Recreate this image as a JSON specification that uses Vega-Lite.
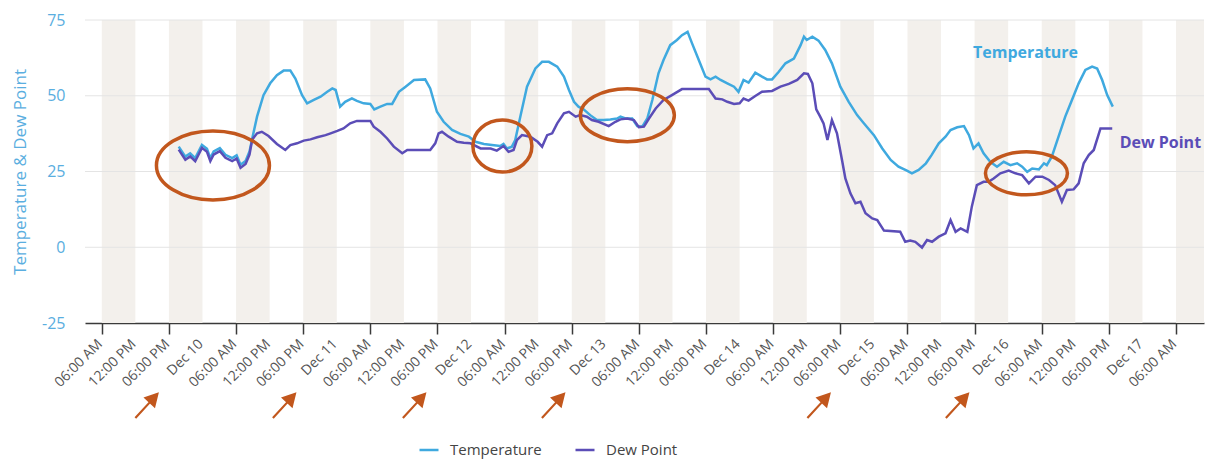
{
  "$schema": "https://vega.github.io/schema/vega-lite/v6.json",
  "width": 1119,
  "height": 303,
  "autosize": {"type": "none"},
  "padding": {"left": 85, "top": 20, "right": 1, "bottom": 136},
  "background": "white",
  "config": {
    "font": "Open Sans",
    "view": {"stroke": null},
    "axisX": {"labelOverlap": false, "labelFlush": false, "labelBound": false, "grid": false},
    "axisY": {"labelOverlap": false, "grid": false}
  },
  "datasets": {
    "bands": [
      {"t": "2023-12-09T06:00", "t2": "2023-12-09T12:00"},
      {"t": "2023-12-09T18:00", "t2": "2023-12-10T00:00"},
      {"t": "2023-12-10T06:00", "t2": "2023-12-10T12:00"},
      {"t": "2023-12-10T18:00", "t2": "2023-12-11T00:00"},
      {"t": "2023-12-11T06:00", "t2": "2023-12-11T12:00"},
      {"t": "2023-12-11T18:00", "t2": "2023-12-12T00:00"},
      {"t": "2023-12-12T06:00", "t2": "2023-12-12T12:00"},
      {"t": "2023-12-12T18:00", "t2": "2023-12-13T00:00"},
      {"t": "2023-12-13T06:00", "t2": "2023-12-13T12:00"},
      {"t": "2023-12-13T18:00", "t2": "2023-12-14T00:00"},
      {"t": "2023-12-14T06:00", "t2": "2023-12-14T12:00"},
      {"t": "2023-12-14T18:00", "t2": "2023-12-15T00:00"},
      {"t": "2023-12-15T06:00", "t2": "2023-12-15T12:00"},
      {"t": "2023-12-15T18:00", "t2": "2023-12-16T00:00"},
      {"t": "2023-12-16T06:00", "t2": "2023-12-16T12:00"},
      {"t": "2023-12-16T18:00", "t2": "2023-12-17T00:00"},
      {"t": "2023-12-17T06:00", "t2": "2023-12-17T11:00"}
    ],
    "grid": [{"v": 0}, {"v": 25}, {"v": 50}, {"v": 75}],
    "ticklabels": [
      {"t": "2023-12-09T06:00", "label": "06:00 AM"},
      {"t": "2023-12-09T12:00", "label": "12:00 PM"},
      {"t": "2023-12-09T18:00", "label": "06:00 PM"},
      {"t": "2023-12-10T00:00", "label": "Dec 10"},
      {"t": "2023-12-10T06:00", "label": "06:00 AM"},
      {"t": "2023-12-10T12:00", "label": "12:00 PM"},
      {"t": "2023-12-10T18:00", "label": "06:00 PM"},
      {"t": "2023-12-11T00:00", "label": "Dec 11"},
      {"t": "2023-12-11T06:00", "label": "06:00 AM"},
      {"t": "2023-12-11T12:00", "label": "12:00 PM"},
      {"t": "2023-12-11T18:00", "label": "06:00 PM"},
      {"t": "2023-12-12T00:00", "label": "Dec 12"},
      {"t": "2023-12-12T06:00", "label": "06:00 AM"},
      {"t": "2023-12-12T12:00", "label": "12:00 PM"},
      {"t": "2023-12-12T18:00", "label": "06:00 PM"},
      {"t": "2023-12-13T00:00", "label": "Dec 13"},
      {"t": "2023-12-13T06:00", "label": "06:00 AM"},
      {"t": "2023-12-13T12:00", "label": "12:00 PM"},
      {"t": "2023-12-13T18:00", "label": "06:00 PM"},
      {"t": "2023-12-14T00:00", "label": "Dec 14"},
      {"t": "2023-12-14T06:00", "label": "06:00 AM"},
      {"t": "2023-12-14T12:00", "label": "12:00 PM"},
      {"t": "2023-12-14T18:00", "label": "06:00 PM"},
      {"t": "2023-12-15T00:00", "label": "Dec 15"},
      {"t": "2023-12-15T06:00", "label": "06:00 AM"},
      {"t": "2023-12-15T12:00", "label": "12:00 PM"},
      {"t": "2023-12-15T18:00", "label": "06:00 PM"},
      {"t": "2023-12-16T00:00", "label": "Dec 16"},
      {"t": "2023-12-16T06:00", "label": "06:00 AM"},
      {"t": "2023-12-16T12:00", "label": "12:00 PM"},
      {"t": "2023-12-16T18:00", "label": "06:00 PM"},
      {"t": "2023-12-17T00:00", "label": "Dec 17"},
      {"t": "2023-12-17T06:00", "label": "06:00 AM"}
    ],
    "weather": [
      {"t": "2023-12-09T19:45", "s": "Temperature", "v": 33.2},
      {"t": "2023-12-09T20:56", "s": "Temperature", "v": 29.9},
      {"t": "2023-12-09T21:48", "s": "Temperature", "v": 31.0},
      {"t": "2023-12-09T22:42", "s": "Temperature", "v": 29.4},
      {"t": "2023-12-09T23:54", "s": "Temperature", "v": 33.8},
      {"t": "2023-12-10T00:48", "s": "Temperature", "v": 32.5},
      {"t": "2023-12-10T01:24", "s": "Temperature", "v": 29.4},
      {"t": "2023-12-10T02:00", "s": "Temperature", "v": 31.6},
      {"t": "2023-12-10T03:06", "s": "Temperature", "v": 32.7},
      {"t": "2023-12-10T04:06", "s": "Temperature", "v": 30.5},
      {"t": "2023-12-10T05:18", "s": "Temperature", "v": 29.4},
      {"t": "2023-12-10T06:06", "s": "Temperature", "v": 30.3},
      {"t": "2023-12-10T06:48", "s": "Temperature", "v": 27.2},
      {"t": "2023-12-10T07:42", "s": "Temperature", "v": 28.5},
      {"t": "2023-12-10T08:24", "s": "Temperature", "v": 31.6},
      {"t": "2023-12-10T08:54", "s": "Temperature", "v": 36.0},
      {"t": "2023-12-10T09:45", "s": "Temperature", "v": 43.1},
      {"t": "2023-12-10T10:54", "s": "Temperature", "v": 50.2},
      {"t": "2023-12-10T12:06", "s": "Temperature", "v": 54.1},
      {"t": "2023-12-10T13:18", "s": "Temperature", "v": 56.8},
      {"t": "2023-12-10T14:30", "s": "Temperature", "v": 58.3},
      {"t": "2023-12-10T15:42", "s": "Temperature", "v": 58.3},
      {"t": "2023-12-10T16:36", "s": "Temperature", "v": 55.7},
      {"t": "2023-12-10T17:48", "s": "Temperature", "v": 50.2},
      {"t": "2023-12-10T18:42", "s": "Temperature", "v": 47.5},
      {"t": "2023-12-10T19:54", "s": "Temperature", "v": 48.6},
      {"t": "2023-12-10T21:06", "s": "Temperature", "v": 49.7},
      {"t": "2023-12-10T22:18", "s": "Temperature", "v": 51.3},
      {"t": "2023-12-10T23:12", "s": "Temperature", "v": 52.4},
      {"t": "2023-12-10T23:48", "s": "Temperature", "v": 51.9},
      {"t": "2023-12-11T00:36", "s": "Temperature", "v": 46.4},
      {"t": "2023-12-11T01:30", "s": "Temperature", "v": 48.0},
      {"t": "2023-12-11T02:42", "s": "Temperature", "v": 49.1},
      {"t": "2023-12-11T03:36", "s": "Temperature", "v": 48.3},
      {"t": "2023-12-11T04:48", "s": "Temperature", "v": 47.5},
      {"t": "2023-12-11T06:00", "s": "Temperature", "v": 47.3},
      {"t": "2023-12-11T06:42", "s": "Temperature", "v": 45.5},
      {"t": "2023-12-11T07:48", "s": "Temperature", "v": 46.4},
      {"t": "2023-12-11T09:00", "s": "Temperature", "v": 47.3},
      {"t": "2023-12-11T09:54", "s": "Temperature", "v": 47.3},
      {"t": "2023-12-11T11:06", "s": "Temperature", "v": 51.3},
      {"t": "2023-12-11T12:18", "s": "Temperature", "v": 53.0},
      {"t": "2023-12-11T13:48", "s": "Temperature", "v": 55.2},
      {"t": "2023-12-11T15:48", "s": "Temperature", "v": 55.4},
      {"t": "2023-12-11T16:42", "s": "Temperature", "v": 52.4},
      {"t": "2023-12-11T17:54", "s": "Temperature", "v": 44.7},
      {"t": "2023-12-11T19:06", "s": "Temperature", "v": 41.4},
      {"t": "2023-12-11T20:36", "s": "Temperature", "v": 38.7},
      {"t": "2023-12-11T22:06", "s": "Temperature", "v": 37.4},
      {"t": "2023-12-11T23:36", "s": "Temperature", "v": 36.5},
      {"t": "2023-12-12T00:48", "s": "Temperature", "v": 34.8},
      {"t": "2023-12-12T02:18", "s": "Temperature", "v": 34.1},
      {"t": "2023-12-12T04:06", "s": "Temperature", "v": 33.7},
      {"t": "2023-12-12T05:12", "s": "Temperature", "v": 33.4},
      {"t": "2023-12-12T05:48", "s": "Temperature", "v": 34.1},
      {"t": "2023-12-12T06:24", "s": "Temperature", "v": 32.6},
      {"t": "2023-12-12T07:18", "s": "Temperature", "v": 33.2},
      {"t": "2023-12-12T07:54", "s": "Temperature", "v": 35.4},
      {"t": "2023-12-12T08:48", "s": "Temperature", "v": 43.1},
      {"t": "2023-12-12T10:00", "s": "Temperature", "v": 53.0},
      {"t": "2023-12-12T11:30", "s": "Temperature", "v": 59.0},
      {"t": "2023-12-12T12:42", "s": "Temperature", "v": 61.2},
      {"t": "2023-12-12T13:54", "s": "Temperature", "v": 61.2},
      {"t": "2023-12-12T15:24", "s": "Temperature", "v": 59.6},
      {"t": "2023-12-12T16:36", "s": "Temperature", "v": 56.3},
      {"t": "2023-12-12T17:30", "s": "Temperature", "v": 51.9},
      {"t": "2023-12-12T18:24", "s": "Temperature", "v": 48.0},
      {"t": "2023-12-12T19:12", "s": "Temperature", "v": 46.4},
      {"t": "2023-12-12T20:06", "s": "Temperature", "v": 45.5},
      {"t": "2023-12-12T21:18", "s": "Temperature", "v": 43.6},
      {"t": "2023-12-12T22:30", "s": "Temperature", "v": 42.0},
      {"t": "2023-12-12T23:42", "s": "Temperature", "v": 42.0},
      {"t": "2023-12-13T00:54", "s": "Temperature", "v": 42.2},
      {"t": "2023-12-13T02:06", "s": "Temperature", "v": 42.5},
      {"t": "2023-12-13T02:42", "s": "Temperature", "v": 43.1},
      {"t": "2023-12-13T03:36", "s": "Temperature", "v": 42.5},
      {"t": "2023-12-13T04:48", "s": "Temperature", "v": 42.5},
      {"t": "2023-12-13T05:42", "s": "Temperature", "v": 40.0},
      {"t": "2023-12-13T06:36", "s": "Temperature", "v": 39.8},
      {"t": "2023-12-13T07:30", "s": "Temperature", "v": 42.5},
      {"t": "2023-12-13T08:24", "s": "Temperature", "v": 48.6},
      {"t": "2023-12-13T09:30", "s": "Temperature", "v": 57.4},
      {"t": "2023-12-13T10:24", "s": "Temperature", "v": 61.8},
      {"t": "2023-12-13T11:36", "s": "Temperature", "v": 66.7},
      {"t": "2023-12-13T12:48", "s": "Temperature", "v": 68.4},
      {"t": "2023-12-13T13:42", "s": "Temperature", "v": 70.0},
      {"t": "2023-12-13T14:42", "s": "Temperature", "v": 71.1},
      {"t": "2023-12-13T15:30", "s": "Temperature", "v": 67.3},
      {"t": "2023-12-13T16:42", "s": "Temperature", "v": 61.8},
      {"t": "2023-12-13T17:54", "s": "Temperature", "v": 56.3},
      {"t": "2023-12-13T18:48", "s": "Temperature", "v": 55.4},
      {"t": "2023-12-13T19:42", "s": "Temperature", "v": 56.3},
      {"t": "2023-12-13T20:36", "s": "Temperature", "v": 55.2},
      {"t": "2023-12-13T21:48", "s": "Temperature", "v": 54.1},
      {"t": "2023-12-13T23:00", "s": "Temperature", "v": 53.0},
      {"t": "2023-12-13T23:48", "s": "Temperature", "v": 51.3},
      {"t": "2023-12-14T00:42", "s": "Temperature", "v": 55.2},
      {"t": "2023-12-14T01:36", "s": "Temperature", "v": 54.3},
      {"t": "2023-12-14T02:48", "s": "Temperature", "v": 57.6},
      {"t": "2023-12-14T04:00", "s": "Temperature", "v": 56.3},
      {"t": "2023-12-14T04:54", "s": "Temperature", "v": 55.4},
      {"t": "2023-12-14T05:48", "s": "Temperature", "v": 55.4},
      {"t": "2023-12-14T07:00", "s": "Temperature", "v": 57.9},
      {"t": "2023-12-14T08:12", "s": "Temperature", "v": 60.7},
      {"t": "2023-12-14T09:42", "s": "Temperature", "v": 62.3},
      {"t": "2023-12-14T10:54", "s": "Temperature", "v": 66.7},
      {"t": "2023-12-14T11:30", "s": "Temperature", "v": 69.5},
      {"t": "2023-12-14T12:00", "s": "Temperature", "v": 68.4},
      {"t": "2023-12-14T13:00", "s": "Temperature", "v": 69.5},
      {"t": "2023-12-14T14:06", "s": "Temperature", "v": 68.2},
      {"t": "2023-12-14T15:18", "s": "Temperature", "v": 65.1},
      {"t": "2023-12-14T16:30", "s": "Temperature", "v": 60.7},
      {"t": "2023-12-14T18:00", "s": "Temperature", "v": 53.0},
      {"t": "2023-12-14T19:30", "s": "Temperature", "v": 48.0},
      {"t": "2023-12-14T21:00", "s": "Temperature", "v": 43.6},
      {"t": "2023-12-14T22:12", "s": "Temperature", "v": 40.9},
      {"t": "2023-12-15T00:00", "s": "Temperature", "v": 37.0},
      {"t": "2023-12-15T01:30", "s": "Temperature", "v": 32.6},
      {"t": "2023-12-15T03:00", "s": "Temperature", "v": 28.8},
      {"t": "2023-12-15T04:24", "s": "Temperature", "v": 26.6},
      {"t": "2023-12-15T05:54", "s": "Temperature", "v": 25.3},
      {"t": "2023-12-15T06:48", "s": "Temperature", "v": 24.4},
      {"t": "2023-12-15T08:00", "s": "Temperature", "v": 25.5},
      {"t": "2023-12-15T09:18", "s": "Temperature", "v": 27.7},
      {"t": "2023-12-15T10:18", "s": "Temperature", "v": 30.4},
      {"t": "2023-12-15T11:36", "s": "Temperature", "v": 34.3},
      {"t": "2023-12-15T12:48", "s": "Temperature", "v": 36.5},
      {"t": "2023-12-15T13:42", "s": "Temperature", "v": 38.7},
      {"t": "2023-12-15T14:54", "s": "Temperature", "v": 39.6},
      {"t": "2023-12-15T16:06", "s": "Temperature", "v": 40.0},
      {"t": "2023-12-15T17:00", "s": "Temperature", "v": 37.0},
      {"t": "2023-12-15T17:48", "s": "Temperature", "v": 32.6},
      {"t": "2023-12-15T18:42", "s": "Temperature", "v": 34.3},
      {"t": "2023-12-15T19:36", "s": "Temperature", "v": 31.0},
      {"t": "2023-12-15T20:48", "s": "Temperature", "v": 28.2},
      {"t": "2023-12-15T22:00", "s": "Temperature", "v": 26.6},
      {"t": "2023-12-15T23:12", "s": "Temperature", "v": 28.2},
      {"t": "2023-12-16T00:24", "s": "Temperature", "v": 27.1},
      {"t": "2023-12-16T01:36", "s": "Temperature", "v": 27.7},
      {"t": "2023-12-16T02:30", "s": "Temperature", "v": 26.6},
      {"t": "2023-12-16T03:24", "s": "Temperature", "v": 24.9},
      {"t": "2023-12-16T04:18", "s": "Temperature", "v": 26.0},
      {"t": "2023-12-16T05:30", "s": "Temperature", "v": 25.7},
      {"t": "2023-12-16T06:24", "s": "Temperature", "v": 27.7},
      {"t": "2023-12-16T06:54", "s": "Temperature", "v": 27.1},
      {"t": "2023-12-16T07:48", "s": "Temperature", "v": 29.9},
      {"t": "2023-12-16T09:00", "s": "Temperature", "v": 36.5},
      {"t": "2023-12-16T10:12", "s": "Temperature", "v": 43.1},
      {"t": "2023-12-16T11:24", "s": "Temperature", "v": 48.6},
      {"t": "2023-12-16T12:36", "s": "Temperature", "v": 54.1},
      {"t": "2023-12-16T13:48", "s": "Temperature", "v": 58.5},
      {"t": "2023-12-16T15:00", "s": "Temperature", "v": 59.6},
      {"t": "2023-12-16T15:54", "s": "Temperature", "v": 59.0},
      {"t": "2023-12-16T16:48", "s": "Temperature", "v": 55.2},
      {"t": "2023-12-16T17:42", "s": "Temperature", "v": 50.2},
      {"t": "2023-12-16T18:42", "s": "Temperature", "v": 46.4},
      {"t": "2023-12-09T19:45", "s": "Dew Point", "v": 32.2},
      {"t": "2023-12-09T20:56", "s": "Dew Point", "v": 28.9},
      {"t": "2023-12-09T21:48", "s": "Dew Point", "v": 30.0},
      {"t": "2023-12-09T22:42", "s": "Dew Point", "v": 28.4},
      {"t": "2023-12-09T23:54", "s": "Dew Point", "v": 32.8},
      {"t": "2023-12-10T00:48", "s": "Dew Point", "v": 31.5},
      {"t": "2023-12-10T01:24", "s": "Dew Point", "v": 28.4},
      {"t": "2023-12-10T02:00", "s": "Dew Point", "v": 30.6},
      {"t": "2023-12-10T03:06", "s": "Dew Point", "v": 31.7},
      {"t": "2023-12-10T04:06", "s": "Dew Point", "v": 29.5},
      {"t": "2023-12-10T05:18", "s": "Dew Point", "v": 28.4},
      {"t": "2023-12-10T06:06", "s": "Dew Point", "v": 29.3},
      {"t": "2023-12-10T06:48", "s": "Dew Point", "v": 26.2},
      {"t": "2023-12-10T07:42", "s": "Dew Point", "v": 27.5},
      {"t": "2023-12-10T08:24", "s": "Dew Point", "v": 30.6},
      {"t": "2023-12-10T08:54", "s": "Dew Point", "v": 35.6},
      {"t": "2023-12-10T09:45", "s": "Dew Point", "v": 37.6},
      {"t": "2023-12-10T10:36", "s": "Dew Point", "v": 38.1},
      {"t": "2023-12-10T11:48", "s": "Dew Point", "v": 36.7},
      {"t": "2023-12-10T13:18", "s": "Dew Point", "v": 34.1},
      {"t": "2023-12-10T14:48", "s": "Dew Point", "v": 32.1},
      {"t": "2023-12-10T15:42", "s": "Dew Point", "v": 33.7},
      {"t": "2023-12-10T16:54", "s": "Dew Point", "v": 34.3},
      {"t": "2023-12-10T18:06", "s": "Dew Point", "v": 35.2},
      {"t": "2023-12-10T19:18", "s": "Dew Point", "v": 35.6},
      {"t": "2023-12-10T20:30", "s": "Dew Point", "v": 36.3},
      {"t": "2023-12-10T22:00", "s": "Dew Point", "v": 37.0},
      {"t": "2023-12-10T22:54", "s": "Dew Point", "v": 37.6},
      {"t": "2023-12-11T00:06", "s": "Dew Point", "v": 38.4},
      {"t": "2023-12-11T01:12", "s": "Dew Point", "v": 39.2},
      {"t": "2023-12-11T02:24", "s": "Dew Point", "v": 40.9},
      {"t": "2023-12-11T03:36", "s": "Dew Point", "v": 41.7},
      {"t": "2023-12-11T06:00", "s": "Dew Point", "v": 41.7},
      {"t": "2023-12-11T06:36", "s": "Dew Point", "v": 39.8},
      {"t": "2023-12-11T07:48", "s": "Dew Point", "v": 38.1},
      {"t": "2023-12-11T09:00", "s": "Dew Point", "v": 35.9},
      {"t": "2023-12-11T10:12", "s": "Dew Point", "v": 33.2},
      {"t": "2023-12-11T11:42", "s": "Dew Point", "v": 31.0},
      {"t": "2023-12-11T12:36", "s": "Dew Point", "v": 32.1},
      {"t": "2023-12-11T16:42", "s": "Dew Point", "v": 32.1},
      {"t": "2023-12-11T17:36", "s": "Dew Point", "v": 34.3},
      {"t": "2023-12-11T18:12", "s": "Dew Point", "v": 37.6},
      {"t": "2023-12-11T18:48", "s": "Dew Point", "v": 38.1},
      {"t": "2023-12-11T20:00", "s": "Dew Point", "v": 36.5},
      {"t": "2023-12-11T21:30", "s": "Dew Point", "v": 34.8},
      {"t": "2023-12-11T22:42", "s": "Dew Point", "v": 34.5},
      {"t": "2023-12-11T23:54", "s": "Dew Point", "v": 34.3},
      {"t": "2023-12-12T01:42", "s": "Dew Point", "v": 32.6},
      {"t": "2023-12-12T03:30", "s": "Dew Point", "v": 32.6},
      {"t": "2023-12-12T04:36", "s": "Dew Point", "v": 31.9},
      {"t": "2023-12-12T05:48", "s": "Dew Point", "v": 33.4},
      {"t": "2023-12-12T06:42", "s": "Dew Point", "v": 31.5},
      {"t": "2023-12-12T07:36", "s": "Dew Point", "v": 32.1},
      {"t": "2023-12-12T08:12", "s": "Dew Point", "v": 35.4},
      {"t": "2023-12-12T09:06", "s": "Dew Point", "v": 37.0},
      {"t": "2023-12-12T10:36", "s": "Dew Point", "v": 36.5},
      {"t": "2023-12-12T11:54", "s": "Dew Point", "v": 34.8},
      {"t": "2023-12-12T12:42", "s": "Dew Point", "v": 33.2},
      {"t": "2023-12-12T13:36", "s": "Dew Point", "v": 37.0},
      {"t": "2023-12-12T14:30", "s": "Dew Point", "v": 37.6},
      {"t": "2023-12-12T15:24", "s": "Dew Point", "v": 40.9},
      {"t": "2023-12-12T16:36", "s": "Dew Point", "v": 44.2},
      {"t": "2023-12-12T17:30", "s": "Dew Point", "v": 44.7},
      {"t": "2023-12-12T18:42", "s": "Dew Point", "v": 43.1},
      {"t": "2023-12-12T19:30", "s": "Dew Point", "v": 43.6},
      {"t": "2023-12-12T20:42", "s": "Dew Point", "v": 43.1},
      {"t": "2023-12-12T21:36", "s": "Dew Point", "v": 42.0},
      {"t": "2023-12-12T22:48", "s": "Dew Point", "v": 41.4},
      {"t": "2023-12-13T00:36", "s": "Dew Point", "v": 40.0},
      {"t": "2023-12-13T01:48", "s": "Dew Point", "v": 41.4},
      {"t": "2023-12-13T02:42", "s": "Dew Point", "v": 42.2},
      {"t": "2023-12-13T03:54", "s": "Dew Point", "v": 42.5},
      {"t": "2023-12-13T05:06", "s": "Dew Point", "v": 42.0},
      {"t": "2023-12-13T06:00", "s": "Dew Point", "v": 39.6},
      {"t": "2023-12-13T06:54", "s": "Dew Point", "v": 39.8},
      {"t": "2023-12-13T07:48", "s": "Dew Point", "v": 42.5},
      {"t": "2023-12-13T09:00", "s": "Dew Point", "v": 45.8},
      {"t": "2023-12-13T10:24", "s": "Dew Point", "v": 48.6},
      {"t": "2023-12-13T11:54", "s": "Dew Point", "v": 50.2},
      {"t": "2023-12-13T13:42", "s": "Dew Point", "v": 52.2},
      {"t": "2023-12-13T18:30", "s": "Dew Point", "v": 52.2},
      {"t": "2023-12-13T19:42", "s": "Dew Point", "v": 49.1},
      {"t": "2023-12-13T20:54", "s": "Dew Point", "v": 48.8},
      {"t": "2023-12-13T21:48", "s": "Dew Point", "v": 48.0},
      {"t": "2023-12-13T23:00", "s": "Dew Point", "v": 47.3},
      {"t": "2023-12-14T00:00", "s": "Dew Point", "v": 47.5},
      {"t": "2023-12-14T00:42", "s": "Dew Point", "v": 49.1},
      {"t": "2023-12-14T01:36", "s": "Dew Point", "v": 48.4},
      {"t": "2023-12-14T02:48", "s": "Dew Point", "v": 49.9},
      {"t": "2023-12-14T04:00", "s": "Dew Point", "v": 51.3},
      {"t": "2023-12-14T05:48", "s": "Dew Point", "v": 51.6},
      {"t": "2023-12-14T07:18", "s": "Dew Point", "v": 53.0},
      {"t": "2023-12-14T08:48", "s": "Dew Point", "v": 53.9},
      {"t": "2023-12-14T10:18", "s": "Dew Point", "v": 55.2},
      {"t": "2023-12-14T11:30", "s": "Dew Point", "v": 57.4},
      {"t": "2023-12-14T12:12", "s": "Dew Point", "v": 57.2},
      {"t": "2023-12-14T13:00", "s": "Dew Point", "v": 54.1},
      {"t": "2023-12-14T13:42", "s": "Dew Point", "v": 45.5},
      {"t": "2023-12-14T14:24", "s": "Dew Point", "v": 43.1},
      {"t": "2023-12-14T15:00", "s": "Dew Point", "v": 40.9},
      {"t": "2023-12-14T15:42", "s": "Dew Point", "v": 35.4},
      {"t": "2023-12-14T16:30", "s": "Dew Point", "v": 42.0},
      {"t": "2023-12-14T17:24", "s": "Dew Point", "v": 37.6},
      {"t": "2023-12-14T18:18", "s": "Dew Point", "v": 28.8},
      {"t": "2023-12-14T18:54", "s": "Dew Point", "v": 22.7},
      {"t": "2023-12-14T19:48", "s": "Dew Point", "v": 17.8},
      {"t": "2023-12-14T20:42", "s": "Dew Point", "v": 14.5},
      {"t": "2023-12-14T21:36", "s": "Dew Point", "v": 15.0},
      {"t": "2023-12-14T22:30", "s": "Dew Point", "v": 11.2},
      {"t": "2023-12-14T23:42", "s": "Dew Point", "v": 9.5},
      {"t": "2023-12-15T00:36", "s": "Dew Point", "v": 9.0},
      {"t": "2023-12-15T01:48", "s": "Dew Point", "v": 5.5},
      {"t": "2023-12-15T04:42", "s": "Dew Point", "v": 5.1},
      {"t": "2023-12-15T05:36", "s": "Dew Point", "v": 1.8},
      {"t": "2023-12-15T06:30", "s": "Dew Point", "v": 2.2},
      {"t": "2023-12-15T07:24", "s": "Dew Point", "v": 1.8},
      {"t": "2023-12-15T08:36", "s": "Dew Point", "v": -0.1},
      {"t": "2023-12-15T09:30", "s": "Dew Point", "v": 2.4},
      {"t": "2023-12-15T10:24", "s": "Dew Point", "v": 1.8},
      {"t": "2023-12-15T11:36", "s": "Dew Point", "v": 3.5},
      {"t": "2023-12-15T12:48", "s": "Dew Point", "v": 4.6},
      {"t": "2023-12-15T13:42", "s": "Dew Point", "v": 9.0},
      {"t": "2023-12-15T14:36", "s": "Dew Point", "v": 5.1},
      {"t": "2023-12-15T15:30", "s": "Dew Point", "v": 6.2},
      {"t": "2023-12-15T16:42", "s": "Dew Point", "v": 5.1},
      {"t": "2023-12-15T17:30", "s": "Dew Point", "v": 13.4},
      {"t": "2023-12-15T18:24", "s": "Dew Point", "v": 20.5},
      {"t": "2023-12-15T19:36", "s": "Dew Point", "v": 21.6},
      {"t": "2023-12-15T20:30", "s": "Dew Point", "v": 21.6},
      {"t": "2023-12-15T21:24", "s": "Dew Point", "v": 22.7},
      {"t": "2023-12-15T22:36", "s": "Dew Point", "v": 24.4},
      {"t": "2023-12-16T00:06", "s": "Dew Point", "v": 25.3},
      {"t": "2023-12-16T01:18", "s": "Dew Point", "v": 24.4},
      {"t": "2023-12-16T02:30", "s": "Dew Point", "v": 23.8},
      {"t": "2023-12-16T03:42", "s": "Dew Point", "v": 21.1},
      {"t": "2023-12-16T04:54", "s": "Dew Point", "v": 23.3},
      {"t": "2023-12-16T06:06", "s": "Dew Point", "v": 23.3},
      {"t": "2023-12-16T07:18", "s": "Dew Point", "v": 22.2},
      {"t": "2023-12-16T08:24", "s": "Dew Point", "v": 20.5},
      {"t": "2023-12-16T09:36", "s": "Dew Point", "v": 15.0},
      {"t": "2023-12-16T10:30", "s": "Dew Point", "v": 18.9},
      {"t": "2023-12-16T11:42", "s": "Dew Point", "v": 19.1},
      {"t": "2023-12-16T12:36", "s": "Dew Point", "v": 21.1},
      {"t": "2023-12-16T13:30", "s": "Dew Point", "v": 27.7},
      {"t": "2023-12-16T14:24", "s": "Dew Point", "v": 30.4},
      {"t": "2023-12-16T15:18", "s": "Dew Point", "v": 32.1},
      {"t": "2023-12-16T16:30", "s": "Dew Point", "v": 39.2},
      {"t": "2023-12-16T18:36", "s": "Dew Point", "v": 39.2}
    ],
    "labels": [
      {"t": "2023-12-16T03:06", "v": 64.0, "s": "Temperature"},
      {"t": "2023-12-17T03:12", "v": 34.4, "s": "Dew Point"}
    ],
    "rings": [
      {"t": "2023-12-10T01:52", "v": 27.0, "ring": "a"},
      {"t": "2023-12-12T05:36", "v": 33.4, "ring": "b"},
      {"t": "2023-12-13T03:56", "v": 43.6, "ring": "c"},
      {"t": "2023-12-16T03:16", "v": 24.4, "ring": "d"}
    ],
    "arrows": [
      {"t": "2023-12-09T13:58", "v": -52.4},
      {"t": "2023-12-10T14:33", "v": -52.4},
      {"t": "2023-12-11T13:47", "v": -52.4},
      {"t": "2023-12-12T14:38", "v": -52.4},
      {"t": "2023-12-14T14:05", "v": -52.4},
      {"t": "2023-12-15T14:50", "v": -52.4}
    ]
  },
  "layer": [
    {
      "data": {"name": "bands"},
      "mark": {"type": "rect", "color": "#f3f0ec", "clip": true},
      "encoding": {
        "x": {"field": "t", "type": "temporal", "axis": {"labelOverlap": false, "title": null}},
        "x2": {"field": "t2"}
      }
    },
    {
      "data": {"name": "grid"},
      "mark": {"type": "rule", "color": "#e4e4e4", "strokeWidth": 1},
      "encoding": {"y": {"field": "v", "type": "quantitative"}}
    },
    {
      "data": {"name": "weather"},
      "mark": {"type": "line", "strokeWidth": 2.5},
      "encoding": {
        "x": {
          "field": "t", "type": "temporal",
          "scale": {"domain": [{"year": 2023, "month": 12, "date": 9, "hours": 3}, {"year": 2023, "month": 12, "date": 17, "hours": 11}], "nice": false},
          "axis": {
            "title": null, "grid": false, "labels": false,
            "values": [
              {"year": 2023, "month": 12, "date": 9, "hours": 6}, {"year": 2023, "month": 12, "date": 9, "hours": 12}, {"year": 2023, "month": 12, "date": 9, "hours": 18},
              {"year": 2023, "month": 12, "date": 10, "hours": 0}, {"year": 2023, "month": 12, "date": 10, "hours": 6}, {"year": 2023, "month": 12, "date": 10, "hours": 12}, {"year": 2023, "month": 12, "date": 10, "hours": 18},
              {"year": 2023, "month": 12, "date": 11, "hours": 0}, {"year": 2023, "month": 12, "date": 11, "hours": 6}, {"year": 2023, "month": 12, "date": 11, "hours": 12}, {"year": 2023, "month": 12, "date": 11, "hours": 18},
              {"year": 2023, "month": 12, "date": 12, "hours": 0}, {"year": 2023, "month": 12, "date": 12, "hours": 6}, {"year": 2023, "month": 12, "date": 12, "hours": 12}, {"year": 2023, "month": 12, "date": 12, "hours": 18},
              {"year": 2023, "month": 12, "date": 13, "hours": 0}, {"year": 2023, "month": 12, "date": 13, "hours": 6}, {"year": 2023, "month": 12, "date": 13, "hours": 12}, {"year": 2023, "month": 12, "date": 13, "hours": 18},
              {"year": 2023, "month": 12, "date": 14, "hours": 0}, {"year": 2023, "month": 12, "date": 14, "hours": 6}, {"year": 2023, "month": 12, "date": 14, "hours": 12}, {"year": 2023, "month": 12, "date": 14, "hours": 18},
              {"year": 2023, "month": 12, "date": 15, "hours": 0}, {"year": 2023, "month": 12, "date": 15, "hours": 6}, {"year": 2023, "month": 12, "date": 15, "hours": 12}, {"year": 2023, "month": 12, "date": 15, "hours": 18},
              {"year": 2023, "month": 12, "date": 16, "hours": 0}, {"year": 2023, "month": 12, "date": 16, "hours": 6}, {"year": 2023, "month": 12, "date": 16, "hours": 12}, {"year": 2023, "month": 12, "date": 16, "hours": 18},
              {"year": 2023, "month": 12, "date": 17, "hours": 0}, {"year": 2023, "month": 12, "date": 17, "hours": 6}
            ],
            "labelOverlap": false,
            "domainColor": "#3a3a3a", "domainWidth": 1.5,
            "tickColor": "#3a3a3a", "tickWidth": 1.5, "tickSize": 11
          }
        },
        "y": {
          "field": "v", "type": "quantitative",
          "scale": {"domain": [-25, 75], "nice": false, "zero": false},
          "axis": {
            "title": "Temperature & Dew Point", "titleColor": "#5aaee0", "titleFontSize": 17, "titleFontWeight": "normal", "titlePadding": 12,
            "values": [-25, 0, 25, 50, 75], "grid": false, "domain": false, "ticks": false,
            "labelExpr": "'' + datum.value",
            "labelColor": "#5aaee0", "labelFontSize": 16, "labelPadding": 20
          }
        },
        "color": {
          "field": "s", "type": "nominal",
          "scale": {"domain": ["Temperature", "Dew Point"], "range": ["#3fa9df", "#5b4db7"]},
          "legend": {
            "title": null, "orient": "none", "legendX": 333, "legendY": 419, "direction": "horizontal",
            "symbolType": "stroke", "symbolStrokeWidth": 2.5, "symbolSize": 361,
            "labelFontSize": 15, "labelColor": "#444444", "columnPadding": 28, "labelOffset": 10, "padding": 0
          }
        }
      }
    },
    {
      "data": {"name": "ticklabels"},
      "mark": {"type": "text", "angle": -45, "align": "right", "baseline": "middle", "fontSize": 14, "color": "#555555", "dx": -2},
      "encoding": {
        "x": {"field": "t", "type": "temporal", "axis": {"labelOverlap": false, "title": null}},
        "y": {"datum": -30.8, "type": "quantitative"},
        "text": {"field": "label"}
      }
    },
    {
      "data": {"name": "labels"},
      "mark": {"type": "text", "fontWeight": "bold", "fontSize": 16},
      "encoding": {
        "x": {"field": "t", "type": "temporal", "axis": {"labelOverlap": false, "title": null}},
        "y": {"field": "v", "type": "quantitative"},
        "text": {"field": "s"},
        "color": {"condition": {"test": "datum.s == 'Temperature'", "value": "#3fa9df"}, "value": "#5b4db7"}
      }
    },
    {
      "data": {"name": "rings"},
      "mark": {"type": "point", "filled": false, "size": 4, "strokeWidth": 3.5, "color": "#c2571d", "opacity": 1},
      "encoding": {
        "x": {"field": "t", "type": "temporal", "axis": {"labelOverlap": false, "title": null}},
        "y": {"field": "v", "type": "quantitative"},
        "shape": {
          "field": "ring", "type": "nominal", "legend": null,
          "scale": {
            "domain": ["a", "b", "c", "d"],
            "range": [
              "M -56.5 0 C -56.5 -19.05 -31.2 -34.5 0 -34.5 C 31.2 -34.5 56.5 -19.05 56.5 0 C 56.5 19.05 31.2 34.5 0 34.5 C -31.2 34.5 -56.5 19.05 -56.5 0 Z",
              "M -29.5 0 C -29.5 -14.36 -16.3 -26 0 -26 C 16.3 -26 29.5 -14.36 29.5 0 C 29.5 14.36 16.3 26 0 26 C -16.3 26 -29.5 14.36 -29.5 0 Z",
              "M -47 0 C -47 -14.64 -25.96 -26.5 0 -26.5 C 25.96 -26.5 47 -14.64 47 0 C 47 14.64 25.96 26.5 0 26.5 C -25.96 26.5 -47 14.64 -47 0 Z",
              "M -41 0 C -41 -11.87 -22.64 -21.5 0 -21.5 C 22.64 -21.5 41 -11.87 41 0 C 41 11.87 22.64 21.5 0 21.5 C -22.64 21.5 -41 11.87 -41 0 Z"
            ]
          }
        }
      }
    },
    {
      "data": {"name": "arrows"},
      "mark": {
        "type": "point", "filled": true, "size": 4, "opacity": 1,
        "shape": "M -11 12 L 3.6 -3.9 M 11 -12 L 8 0.2 L -0.8 -8 Z",
        "color": "#c2571d", "stroke": "#c2571d", "strokeWidth": 2.2
      },
      "encoding": {
        "x": {"field": "t", "type": "temporal", "axis": {"labelOverlap": false, "title": null}},
        "y": {"field": "v", "type": "quantitative"}
      }
    }
  ]
}
